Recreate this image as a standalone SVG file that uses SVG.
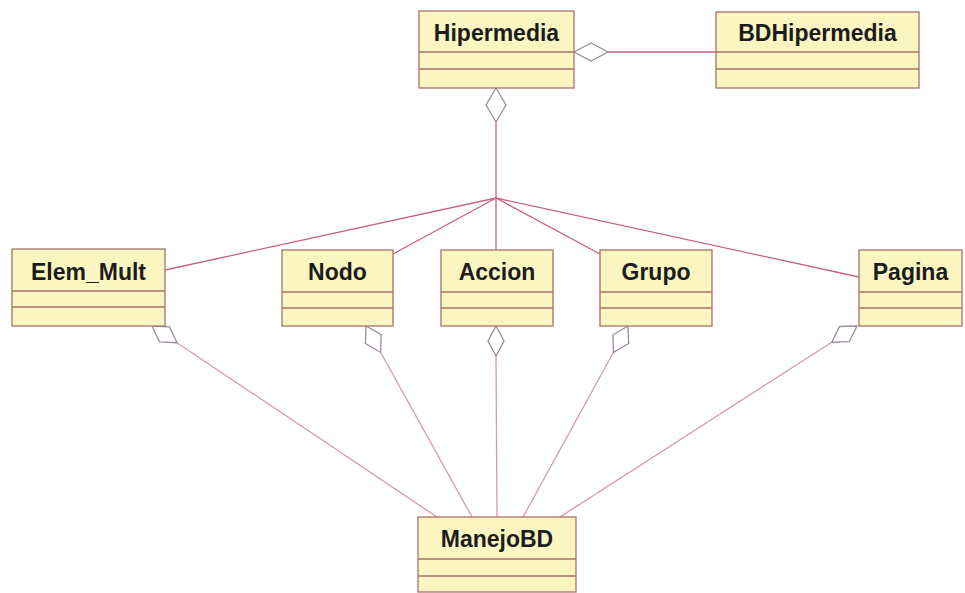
<svg xmlns="http://www.w3.org/2000/svg" width="965" height="593" viewBox="0 0 965 593">
  <style>
    .box { fill: #FBF5C2; stroke: #A8726A; stroke-width: 1.3; }
    .sep { stroke: #A8726A; stroke-width: 1.3; }
    .name { font-family: "Liberation Sans", Arial, sans-serif; font-weight: bold; font-size: 23px; fill: #1c1c1c; text-anchor: middle; }
    .assoc { stroke: #C8627A; stroke-width: 1.3; fill: none; }
    .link { stroke: #D69AA6; stroke-width: 1.3; fill: none; }
    .diamond { fill: #FFFFFF; stroke: #9A8C9C; stroke-width: 1.3; }
  </style>
  <rect width="965" height="593" fill="#FFFFFF"/>

  <!-- connectors -->
  <g id="connectors">
    <!-- Hipermedia / BDHipermedia aggregation -->
    <line class="assoc" x1="608" y1="52" x2="716" y2="52"/>
    <polygon class="diamond" points="574,52 591,43 608,52 591,61"/>
    <!-- Hipermedia aggregation trunk -->
    <line class="assoc" x1="496" y1="122" x2="496" y2="198"/>
    <polygon class="diamond" points="496,88 506,105 496,122 486,105"/>
    <!-- branches to the parts -->
    <line class="assoc" x1="496" y1="198" x2="165" y2="270"/>
    <line class="assoc" x1="496" y1="198" x2="393" y2="254"/>
    <line class="assoc" x1="496" y1="198" x2="496" y2="250"/>
    <line class="assoc" x1="496" y1="198" x2="600" y2="254"/>
    <line class="assoc" x1="496" y1="198" x2="859" y2="277"/>
    <!-- aggregations towards ManejoBD -->
    <line class="link" x1="177" y1="342.7" x2="437" y2="517"/>
    <polygon class="diamond" points="152,326 169.5,326.9 177,342.7 159.5,341.9"/>
    <line class="link" x1="380.6" y1="352.2" x2="472" y2="517"/>
    <polygon class="diamond" points="366,326 381.2,334.7 380.6,352.2 365.4,343.5"/>
    <line class="link" x1="496" y1="356" x2="497" y2="517"/>
    <polygon class="diamond" points="496,326 504,341 496,356 488,341"/>
    <line class="link" x1="613.5" y1="352.3" x2="523" y2="517"/>
    <polygon class="diamond" points="628,326 628.7,343.5 613.5,352.3 612.9,334.8"/>
    <line class="link" x1="831.8" y1="342.2" x2="560" y2="517"/>
    <polygon class="diamond" points="857,326 849.3,341.7 831.8,342.2 839.5,326.5"/>
  </g>

  <g id="Hipermedia">
    <rect class="box" x="419" y="11" width="155" height="77"/>
    <line class="sep" x1="419" y1="52" x2="574" y2="52"/>
    <line class="sep" x1="419" y1="69" x2="574" y2="69"/>
    <text class="name" x="496.5" y="41">Hipermedia</text>
  </g>

  <g id="BDHipermedia">
    <rect class="box" x="716" y="12" width="203" height="76"/>
    <line class="sep" x1="716" y1="52" x2="919" y2="52"/>
    <line class="sep" x1="716" y1="69" x2="919" y2="69"/>
    <text class="name" x="817.5" y="41">BDHipermedia</text>
  </g>

  <g id="Elem_Mult">
    <rect class="box" x="12" y="249" width="153" height="77"/>
    <line class="sep" x1="12" y1="291" x2="165" y2="291"/>
    <line class="sep" x1="12" y1="307" x2="165" y2="307"/>
    <text class="name" x="88.5" y="280">Elem_Mult</text>
  </g>

  <g id="Nodo">
    <rect class="box" x="282" y="250" width="111" height="76"/>
    <line class="sep" x1="282" y1="292" x2="393" y2="292"/>
    <line class="sep" x1="282" y1="308" x2="393" y2="308"/>
    <text class="name" x="337.5" y="280">Nodo</text>
  </g>

  <g id="Accion">
    <rect class="box" x="441" y="250" width="112" height="76"/>
    <line class="sep" x1="441" y1="292" x2="553" y2="292"/>
    <line class="sep" x1="441" y1="308" x2="553" y2="308"/>
    <text class="name" x="497" y="280">Accion</text>
  </g>

  <g id="Grupo">
    <rect class="box" x="600" y="250" width="112" height="76"/>
    <line class="sep" x1="600" y1="292" x2="712" y2="292"/>
    <line class="sep" x1="600" y1="308" x2="712" y2="308"/>
    <text class="name" x="656" y="280">Grupo</text>
  </g>

  <g id="Pagina">
    <rect class="box" x="859" y="250" width="103" height="76"/>
    <line class="sep" x1="859" y1="292" x2="962" y2="292"/>
    <line class="sep" x1="859" y1="308" x2="962" y2="308"/>
    <text class="name" x="910.5" y="280">Pagina</text>
  </g>

  <g id="ManejoBD">
    <rect class="box" x="418" y="517" width="158" height="75"/>
    <line class="sep" x1="418" y1="559" x2="576" y2="559"/>
    <line class="sep" x1="418" y1="576" x2="576" y2="576"/>
    <text class="name" x="497" y="547">ManejoBD</text>
  </g>
</svg>
